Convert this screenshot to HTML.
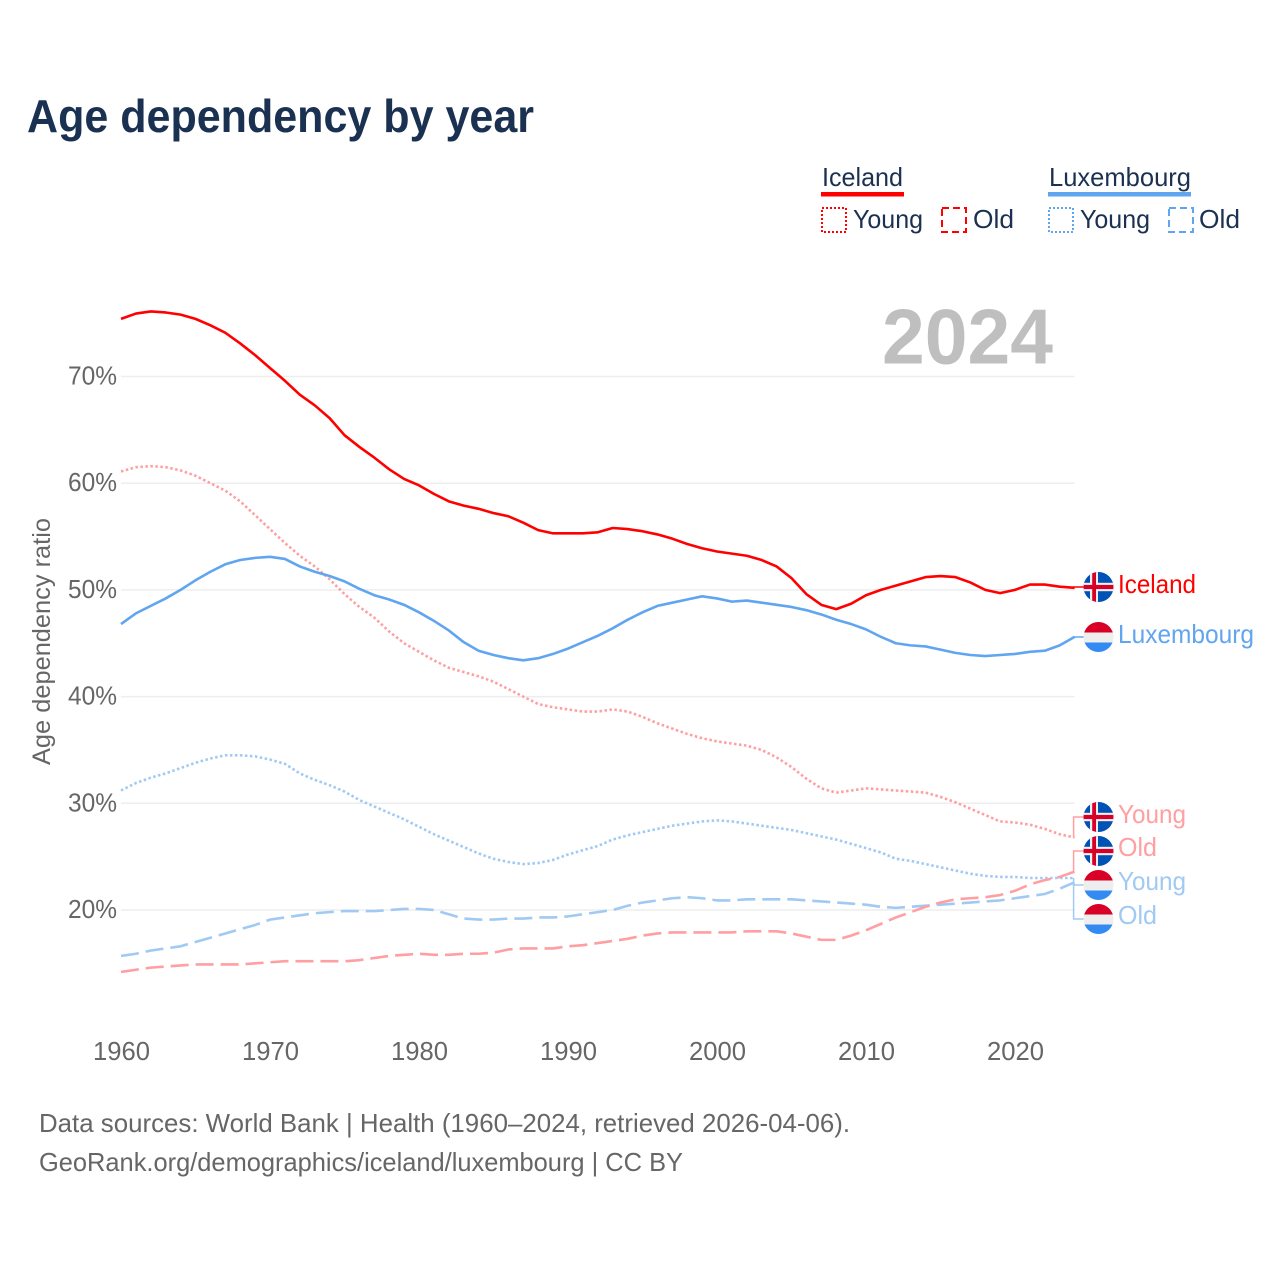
<!DOCTYPE html>
<html lang="en">
<head>
<meta charset="utf-8">
<title>Age dependency by year</title>
<style>
html,body{margin:0;padding:0;background:#fff;}
svg{display:block;font-family:"Liberation Sans",sans-serif;}
</style>
</head>
<body>
<svg id="chart" width="1280" height="1280" viewBox="0 0 1280 1280" xmlns="http://www.w3.org/2000/svg">
  <defs>
    <clipPath id="flag-clip"><circle cx="0" cy="0" r="15"/></clipPath>
    <g id="flag-iceland">
      <g clip-path="url(#flag-clip)">
        <rect x="-15" y="-15" width="30" height="30" fill="#0052b4"/>
        <rect x="-8.5" y="-15" width="8" height="30" fill="#f0f0f0"/>
        <rect x="-15" y="-4.2" width="30" height="8.4" fill="#f0f0f0"/>
        <rect x="-6.3" y="-15" width="3.8" height="30" fill="#d80027"/>
        <rect x="-15" y="-2.1" width="30" height="4.2" fill="#d80027"/>
      </g>
    </g>
    <g id="flag-luxembourg">
      <g clip-path="url(#flag-clip)">
        <rect x="-15" y="-15" width="30" height="10.5" fill="#d80027"/>
        <rect x="-15" y="-4.5" width="30" height="10" fill="#eeeeee"/>
        <rect x="-15" y="5.5" width="30" height="10" fill="#338af3"/>
      </g>
    </g>
  </defs>

  <text x="27" y="132" font-size="46" font-weight="700" fill="#1a3152" textLength="507" lengthAdjust="spacingAndGlyphs">Age dependency by year</text>

  <g font-size="26" fill="#1a3152">
    <text x="822" y="186" textLength="81" lengthAdjust="spacingAndGlyphs">Iceland</text>
    <rect x="821" y="192" width="83" height="4.5" fill="#ff0000"/>
    <rect x="822" y="208" width="24" height="24" fill="none" stroke="#ff0000" stroke-width="2" stroke-dasharray="2 2"/>
    <text x="853" y="228" textLength="70" lengthAdjust="spacingAndGlyphs">Young</text>
    <rect x="942" y="208" width="24" height="24" fill="none" stroke="#ff0000" stroke-width="2" stroke-dasharray="7 4"/>
    <text x="973" y="228" textLength="41" lengthAdjust="spacingAndGlyphs">Old</text>
    <text x="1049" y="186" textLength="142" lengthAdjust="spacingAndGlyphs">Luxembourg</text>
    <rect x="1048" y="192" width="143" height="4.5" fill="#60a5f0"/>
    <rect x="1049" y="208" width="24" height="24" fill="none" stroke="#60a5f0" stroke-width="2" stroke-dasharray="2 2"/>
    <text x="1080" y="228" textLength="70" lengthAdjust="spacingAndGlyphs">Young</text>
    <rect x="1169" y="208" width="24" height="24" fill="none" stroke="#60a5f0" stroke-width="2" stroke-dasharray="7 4"/>
    <text x="1199" y="228" textLength="41" lengthAdjust="spacingAndGlyphs">Old</text>
  </g>

  <g id="grid"></g>

  <text x="882" y="363.5" font-size="78" font-weight="700" fill="#bfbfbf" textLength="171" lengthAdjust="spacingAndGlyphs">2024</text>

  <g id="y-ticks"></g>
  <g id="x-ticks"></g>
  <text transform="translate(50,641.5) rotate(-90)" text-anchor="middle" font-size="25" fill="#666666" textLength="247" lengthAdjust="spacingAndGlyphs">Age dependency ratio</text>

  <g id="series"></g>
  <g id="end-labels"></g>

  <text x="39" y="1132" font-size="26" fill="#666666" textLength="811" lengthAdjust="spacingAndGlyphs">Data sources: World Bank | Health (1960–2024, retrieved 2026-04-06).</text>
  <text x="39" y="1171" font-size="26" fill="#666666" textLength="644" lengthAdjust="spacingAndGlyphs">GeoRank.org/demographics/iceland/luxembourg | CC BY</text>
</svg>

<script>
const startYear = 1960;
const endYear = 2024;
const yTickValues = [20, 30, 40, 50, 60, 70];
const yTickLabels = ["20%", "30%", "40%", "50%", "60%", "70%"];
const xTickValues = [1960, 1970, 1980, 1990, 2000, 2010, 2020];
const xTickLabels = ["1960", "1970", "1980", "1990", "2000", "2010", "2020"];

const icelandTotal = [75.4,75.9,76.1,76.0,75.8,75.4,74.8,74.1,73.1,72.0,70.8,69.6,68.3,67.3,66.1,64.5,63.4,62.4,61.3,60.4,59.8,59.0,58.3,57.9,57.6,57.2,56.9,56.3,55.6,55.3,55.3,55.3,55.4,55.8,55.7,55.5,55.2,54.8,54.3,53.9,53.6,53.4,53.2,52.8,52.2,51.1,49.6,48.6,48.2,48.7,49.5,50.0,50.4,50.8,51.2,51.3,51.2,50.7,50.0,49.7,50.0,50.5,50.5,50.3,50.2];
const luxembourgTotal = [46.8,47.8,48.5,49.2,50.0,50.9,51.7,52.4,52.8,53.0,53.1,52.9,52.2,51.7,51.3,50.8,50.1,49.5,49.1,48.6,47.9,47.1,46.2,45.1,44.3,43.9,43.6,43.4,43.6,44.0,44.5,45.1,45.7,46.4,47.2,47.9,48.5,48.8,49.1,49.4,49.2,48.9,49.0,48.8,48.6,48.4,48.1,47.7,47.2,46.8,46.3,45.6,45.0,44.8,44.7,44.4,44.1,43.9,43.8,43.9,44.0,44.2,44.3,44.8,45.6];
const icelandYoung = [61.1,61.5,61.6,61.5,61.2,60.7,60.0,59.3,58.3,57.0,55.7,54.4,53.2,52.2,51.0,49.6,48.4,47.4,46.1,45.0,44.2,43.4,42.7,42.3,41.9,41.4,40.7,40.0,39.3,39.0,38.8,38.6,38.6,38.8,38.6,38.1,37.5,37.0,36.5,36.1,35.8,35.6,35.4,35.0,34.3,33.4,32.3,31.4,31.0,31.2,31.4,31.3,31.2,31.1,31.0,30.6,30.1,29.5,28.9,28.3,28.2,28.0,27.6,27.1,26.8];
const icelandOld = [14.2,14.4,14.6,14.7,14.8,14.9,14.9,14.9,14.9,15.0,15.1,15.2,15.2,15.2,15.2,15.2,15.3,15.5,15.7,15.8,15.9,15.8,15.8,15.9,15.9,16.0,16.3,16.4,16.4,16.4,16.6,16.7,16.9,17.1,17.3,17.6,17.8,17.9,17.9,17.9,17.9,17.9,18.0,18.0,18.0,17.8,17.5,17.2,17.2,17.6,18.1,18.7,19.3,19.8,20.3,20.7,21.0,21.1,21.2,21.4,21.8,22.4,22.8,23.1,23.6];
const luxembourgYoung = [31.2,31.9,32.4,32.8,33.3,33.8,34.2,34.5,34.5,34.4,34.1,33.7,32.8,32.2,31.7,31.1,30.3,29.7,29.1,28.5,27.8,27.1,26.5,25.9,25.3,24.8,24.5,24.3,24.4,24.7,25.2,25.6,26.0,26.6,27.0,27.3,27.6,27.9,28.1,28.3,28.4,28.3,28.1,27.9,27.7,27.5,27.2,26.9,26.6,26.2,25.8,25.4,24.8,24.6,24.3,24.0,23.7,23.4,23.2,23.1,23.1,23.0,23.0,23.0,23.0];
const luxembourgOld = [15.7,15.9,16.2,16.4,16.6,17.0,17.4,17.8,18.2,18.6,19.1,19.3,19.5,19.7,19.8,19.9,19.9,19.9,20.0,20.1,20.1,20.0,19.6,19.2,19.1,19.1,19.2,19.2,19.3,19.3,19.4,19.6,19.8,20.0,20.4,20.7,20.9,21.1,21.2,21.1,20.9,20.9,21.0,21.0,21.0,21.0,20.9,20.8,20.7,20.6,20.5,20.3,20.2,20.3,20.4,20.5,20.6,20.7,20.8,20.9,21.1,21.3,21.5,22.0,22.6];

const NS = "http://www.w3.org/2000/svg";
function xScale(year) { return 121 + (year - 1960) * 14.9; }
function yScale(value) { return 910 - (value - 20) * 10.67; }
function make(tag, attrs, parent) {
  const el = document.createElementNS(NS, tag);
  for (const key in attrs) el.setAttribute(key, attrs[key]);
  parent.appendChild(el);
  return el;
}

const plotRight = xScale(endYear);
const gridGroup = document.getElementById("grid");
const yTickGroup = document.getElementById("y-ticks");
const xTickGroup = document.getElementById("x-ticks");

yTickValues.forEach(function (v, i) {
  const line = make("line", {x1: 121, x2: plotRight, y1: yScale(v), y2: yScale(v), stroke: "#eeeeee", "stroke-width": 1.5}, gridGroup);
  
  
  const label = make("text", {x: 117, y: yScale(v) + 8, "text-anchor": "end", "font-size": 26, fill: "#666666", textLength: 49, lengthAdjust: "spacingAndGlyphs"}, yTickGroup);
  
  
  label.textContent = yTickLabels[i];
});

xTickValues.forEach(function (year, i) {
  const label = make("text", {x: xScale(year) + 0.5, y: 1060, "text-anchor": "middle", "font-size": 26, fill: "#666666", textLength: 57, lengthAdjust: "spacingAndGlyphs"}, xTickGroup);
  
  
  label.textContent = xTickLabels[i];
});

function drawSeries(values, color, dash, name) {
  const d = values.map(function (v, i) {
    return (i ? "L" : "M") + xScale(startYear + i).toFixed(2) + " " + yScale(v).toFixed(2);
  }).join(" ");
  const attrs = {d: d, fill: "none", stroke: color, "stroke-width": 2.6, "stroke-linejoin": "round"};
  if (dash) attrs["stroke-dasharray"] = dash;
  const path = make("path", attrs, document.getElementById("series"));
  
  
}

const pinkColor = "#ff9fa2";
const paleBlueColor = "#a0c9f4";
drawSeries(luxembourgOld, paleBlueColor, "18 7", "line-luxembourg-old");
drawSeries(luxembourgYoung, paleBlueColor, "2.5 2.5", "line-luxembourg-young");
drawSeries(icelandOld, pinkColor, "18 7", "line-iceland-old");
drawSeries(icelandYoung, pinkColor, "2.5 2.5", "line-iceland-young");
drawSeries(luxembourgTotal, "#60a5f0", null, "line-luxembourg-total");
drawSeries(icelandTotal, "#ff0000", null, "line-iceland-total");

const labelGroup = document.getElementById("end-labels");
function drawEndLabel(values, flagId, flagY, text, width, color, name, baseline) {
  const endY = yScale(values[values.length - 1]);
  const link = make("path", {d: "M" + (plotRight - 1) + " " + endY + " L" + (plotRight - 1) + " " + flagY + " L1084 " + flagY, fill: "none", stroke: color, "stroke-width": 1.5}, labelGroup);
  
  
  const flag = make("use", {href: "#" + flagId, transform: "translate(1098.5," + flagY + ")"}, labelGroup);
  
  
  const label = make("text", {x: 1118, y: baseline, "font-size": 26, fill: color, textLength: width, lengthAdjust: "spacingAndGlyphs"}, labelGroup);
  
  
  label.textContent = text;
}

drawEndLabel(icelandTotal, "flag-iceland", 587, "Iceland", 78, "#ff0000", "end-iceland", 593);
drawEndLabel(luxembourgTotal, "flag-luxembourg", 637, "Luxembourg", 136, "#60a5f0", "end-luxembourg", 643);
drawEndLabel(icelandYoung, "flag-iceland", 817, "Young", 68, pinkColor, "end-iceland-young", 823);
drawEndLabel(icelandOld, "flag-iceland", 851, "Old", 39, pinkColor, "end-iceland-old", 856);
drawEndLabel(luxembourgYoung, "flag-luxembourg", 885, "Young", 68, paleBlueColor, "end-luxembourg-young", 890);
drawEndLabel(luxembourgOld, "flag-luxembourg", 919, "Old", 39, paleBlueColor, "end-luxembourg-old", 924);
</script>
</body>
</html>
